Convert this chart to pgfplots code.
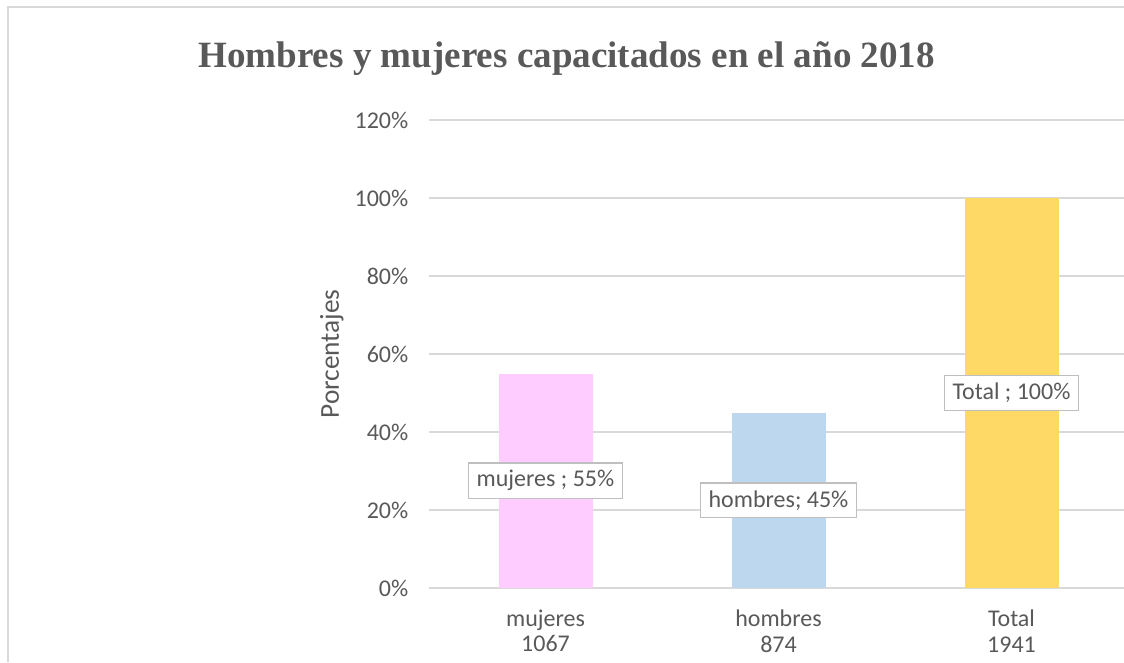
\documentclass[border=0pt]{standalone}
\usepackage{fontspec}
\setmainfont{Carlito}
\newfontfamily\titlefont{Liberation Serif}
\usepackage{pgfplots}
\pgfplotsset{compat=1.18}

\definecolor{txtgray}{HTML}{595959}
\definecolor{gridgray}{HTML}{D9D9D9}
\definecolor{boxgray}{HTML}{BFBFBF}
\definecolor{pinkbar}{HTML}{FFCCFF}
\definecolor{bluebar}{HTML}{BDD7EE}
\definecolor{goldbar}{HTML}{FFD966}

\pgfplotsset{
  datalabel/.style={draw=none, mark=none, nodes near coords={#1},
    every node near coord/.style={anchor=center, draw=boxgray, line width=1pt, fill=white,
      text=txtgray, font=\fontsize{18}{21.5}\selectfont, inner xsep=6pt, inner ysep=5.5pt}},
}

\begin{document}
\begin{tikzpicture}
\useasboundingbox (0,0) rectangle (843pt,496.5pt);
\clip (0,0) rectangle (843pt,496.5pt);
\draw[gridgray, line width=1.5pt] (6pt,0) -- (6pt,491.25pt) -- (843pt,491.25pt);
\node[anchor=base, text=txtgray, font=\titlefont\bfseries\fontsize{27.8}{33}\selectfont]
  at (425pt,446pt) {Hombres y mujeres capacitados en el año 2018};
\begin{axis}[
  at={(321.75pt,55.5pt)}, anchor=south west,
  scale only axis, width=524.25pt, height=351pt,
  xmin=-0.5, xmax=2.5, ymin=0, ymax=120,
  axis line style={draw=none},
  major tick length=0pt,
  ymajorgrids, grid style={gridgray, line width=1.2pt},
  ytick={0,20,...,120},
  yticklabel={\pgfmathprintnumber{\tick}\%},
  /pgf/number format/assume math mode=true,
  xtick={0,1,2},
  xticklabels={{mujeres\\1067},{hombres\\874},{Total\\1941}},
  xticklabel style={align=center, yshift=-13pt, font=\fontsize{18}{19}\selectfont},
  yticklabel style={xshift=-12pt, font=\fontsize{18}{21.5}\selectfont},
  tick label style={text=txtgray},
  ylabel={Porcentajes},
  every axis y label/.style={at={(axis description cs:-0.139,0.5)}, rotate=90, anchor=center,
    text=txtgray, font=\fontsize{20.5}{24}\selectfont},
  clip=false,
]
\addplot[ybar, bar width=70.5pt, bar shift=0pt, fill=pinkbar, draw=none] coordinates {(0,55)};
\addplot[ybar, bar width=70.5pt, bar shift=0pt, fill=bluebar, draw=none] coordinates {(1,45)};
\addplot[ybar, bar width=70.5pt, bar shift=0pt, fill=goldbar, draw=none] coordinates {(2,100)};
\addplot[datalabel={mujeres ; 55\%}] coordinates {(0,27.5)};
\addplot[datalabel={hombres; 45\%}] coordinates {(1,22.5)};
\addplot[datalabel={Total ; 100\%}] coordinates {(2,50)};
\end{axis}
\end{tikzpicture}
\end{document}
